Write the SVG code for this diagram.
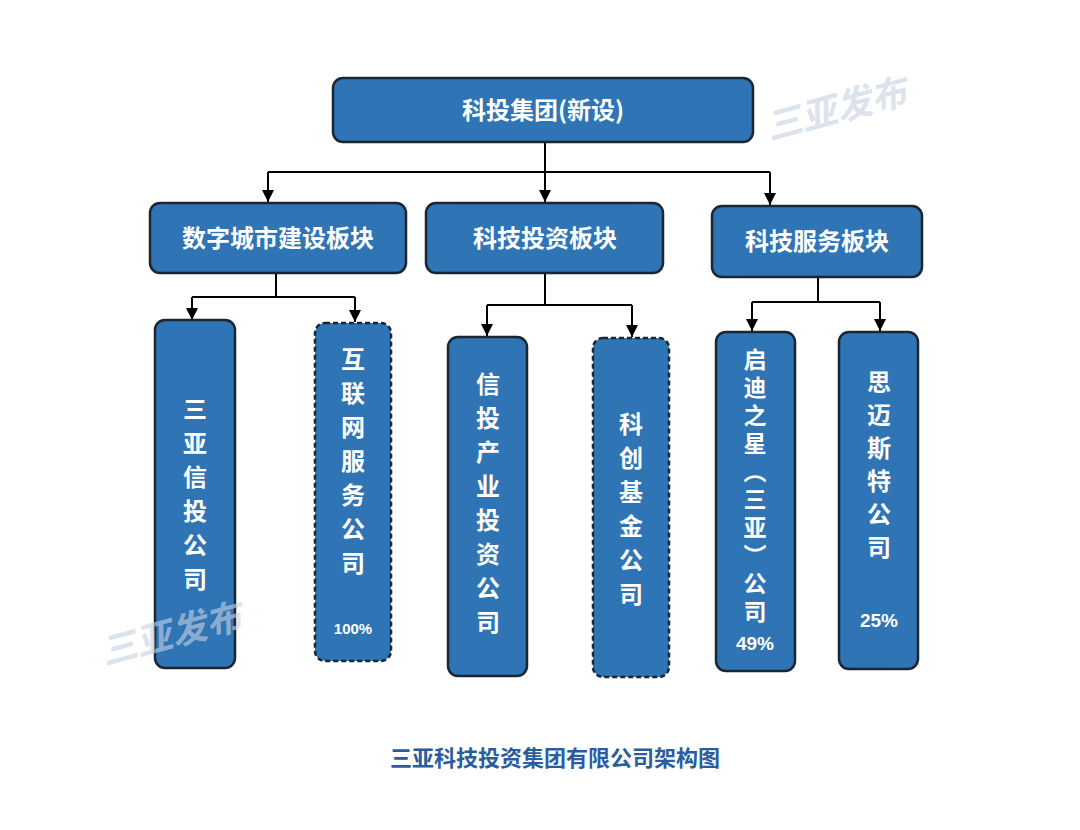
<svg xmlns="http://www.w3.org/2000/svg" width="1080" height="830" viewBox="0 0 1080 830">
<defs>
<marker id="ah" markerWidth="12" markerHeight="12" refX="10" refY="5" orient="auto" markerUnits="userSpaceOnUse" viewBox="0 0 10 10"><path d="M0,0 L10,5 L0,10 z" fill="#000"/></marker>
<style>
.box{fill:#2f74b5;stroke:#1b2633;stroke-width:2.5}
.dash{stroke-dasharray:5 3}
.t{font-family:"Noto Sans CJK SC","Liberation Sans",sans-serif;font-weight:bold;fill:#fff;text-anchor:middle}
.h{font-size:24px}
.v{font-size:24px}
.q{font-size:23px}
.p{font-family:"Liberation Sans",sans-serif}
.c{fill:none;stroke:#000;stroke-width:2}
.wm{font-family:"Noto Sans CJK SC",sans-serif;font-weight:bold;font-style:italic;fill:#c8d2e2;font-size:36px;opacity:0.6}
</style>
</defs>
<rect width="1080" height="830" fill="#fff"/>
<g id="connectors">
<path class="c" d="M545,142 V172" stroke-width="4"/>
<path class="c" d="M268,172 H770"/>
<path class="c" d="M268,172 V202" marker-end="url(#ah)"/>
<path class="c" d="M545,172 V202" marker-end="url(#ah)"/>
<path class="c" d="M770,172 V205" marker-end="url(#ah)"/>
<path class="c" d="M276,273 V297 M192,297 H355"/>
<path class="c" d="M192,297 V320" marker-end="url(#ah)"/>
<path class="c" d="M355,297 V322" marker-end="url(#ah)"/>
<path class="c" d="M545,273 V305 M487,305 H632"/>
<path class="c" d="M487,305 V336" marker-end="url(#ah)"/>
<path class="c" d="M632,305 V337" marker-end="url(#ah)"/>
<path class="c" d="M818,277 V302 M752,302 H880"/>
<path class="c" d="M752,302 V331" marker-end="url(#ah)"/>
<path class="c" d="M880,302 V331" marker-end="url(#ah)"/>
</g>
<g id="root"><rect class="box" x="333" y="78" width="420" height="64" rx="10"/><text class="t h" x="543" y="119">科投集团(新设)</text></g>
<g id="digital"><rect class="box" x="150" y="203" width="256" height="70" rx="10"/><text class="t h" x="278" y="247">数字城市建设板块</text></g>
<g id="invest"><rect class="box" x="426" y="203" width="237" height="70" rx="10"/><text class="t h" x="545" y="247">科技投资板块</text></g>
<g id="service"><rect class="box" x="712" y="206" width="210" height="71" rx="10"/><text class="t h" x="817" y="250">科技服务板块</text></g>
<g id="sanya"><rect class="box" x="155" y="320" width="80" height="348" rx="10"/>
<text class="t v" x="195" y="418">三</text><text class="t v" x="195" y="452">亚</text><text class="t v" x="195" y="486">信</text><text class="t v" x="195" y="520">投</text><text class="t v" x="195" y="554">公</text><text class="t v" x="195" y="588">司</text></g>
<g id="internet"><rect class="box dash" x="315" y="323" width="76" height="338" rx="10"/>
<text class="t v" x="353" y="368">互</text><text class="t v" x="353" y="402">联</text><text class="t v" x="353" y="436">网</text><text class="t v" x="353" y="470">服</text><text class="t v" x="353" y="504">务</text><text class="t v" x="353" y="538">公</text><text class="t v" x="353" y="572">司</text>
<text class="t p" x="353" y="634" style="font-size:15px">100%</text></g>
<g id="xintou"><rect class="box" x="448" y="337" width="79" height="339" rx="10"/>
<text class="t v" x="488" y="393">信</text><text class="t v" x="488" y="427">投</text><text class="t v" x="488" y="461">产</text><text class="t v" x="488" y="495">业</text><text class="t v" x="488" y="529">投</text><text class="t v" x="488" y="563">资</text><text class="t v" x="488" y="597">公</text><text class="t v" x="488" y="631">司</text></g>
<g id="kechuang"><rect class="box dash" x="593" y="338" width="76" height="339" rx="10"/>
<text class="t v" x="631" y="433">科</text><text class="t v" x="631" y="467">创</text><text class="t v" x="631" y="501">基</text><text class="t v" x="631" y="535">金</text><text class="t v" x="631" y="569">公</text><text class="t v" x="631" y="603">司</text></g>
<g id="qidi"><rect class="box" x="716" y="332" width="79" height="339" rx="10"/>
<text class="t q" x="755" y="368">启</text><text class="t q" x="755" y="396">迪</text><text class="t q" x="755" y="424">之</text><text class="t q" x="755" y="452">星</text><text class="t q" x="755" y="480">︵</text><text class="t q" x="755" y="508">三</text><text class="t q" x="755" y="536">亚</text><text class="t q" x="755" y="564">︶</text><text class="t q" x="755" y="592">公</text><text class="t q" x="755" y="620">司</text>
<text class="t p" x="755" y="650" style="font-size:19px">49%</text></g>
<g id="simai"><rect class="box" x="839" y="332" width="79" height="337" rx="10"/>
<text class="t v" x="879" y="391">思</text><text class="t v" x="879" y="424">迈</text><text class="t v" x="879" y="457">斯</text><text class="t v" x="879" y="490">特</text><text class="t v" x="879" y="523">公</text><text class="t v" x="879" y="556">司</text>
<text class="t p" x="879" y="627" style="font-size:19px">25%</text></g>
<text x="555" y="766" style="font-family:'Noto Sans CJK SC',sans-serif;font-weight:bold;font-size:22px;fill:#2b5c9e;text-anchor:middle">三亚科技投资集团有限公司架构图</text>
<text class="wm" transform="translate(770,140) rotate(-15)">三亚发布</text>
<text class="wm" transform="translate(105,665) rotate(-15)">三亚发布</text>
</svg>
